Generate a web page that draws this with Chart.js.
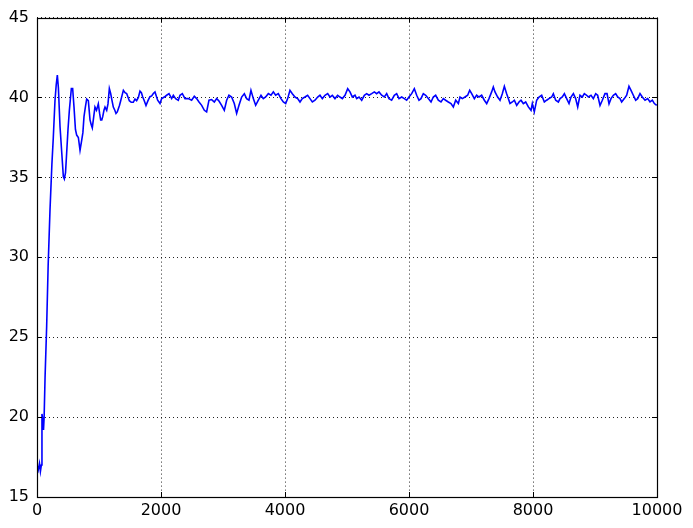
<!DOCTYPE html>
<html>
<head>
<meta charset="utf-8">
<script src="https://cdn.jsdelivr.net/npm/chart.js@4.4.0/dist/chart.umd.min.js"></script>
<style>
  html, body { margin: 0; padding: 0; background: #fff; }
  #chart { display: block; }
</style>
</head>
<body>
<canvas id="chart" width="693" height="528"></canvas>
<script>
const xValues = [
  0, 20, 40, 55, 70, 80, 95, 105, 115, 130, 156, 180, 210, 240, 263, 290, 310, 328, 345, 371,
  400, 425, 441, 460, 478, 500, 522, 554, 575, 597, 620, 640, 667, 694, 720, 740, 758, 780, 801, 828,
  855, 875, 892, 915, 935, 960, 989, 1010, 1027, 1045, 1060, 1080, 1097, 1124, 1145, 1167, 1188, 1210, 1231, 1255,
  1274, 1295, 1312, 1330, 1350, 1370, 1393, 1420, 1446, 1470, 1489, 1520, 1553, 1580, 1607, 1635, 1661, 1684, 1704, 1730,
  1758, 1790, 1822, 1850, 1876, 1903, 1946, 1984, 2011, 2054, 2091, 2129, 2172, 2199, 2236, 2279, 2306, 2344, 2387, 2441,
  2494, 2537, 2575, 2613, 2656, 2699, 2736, 2774, 2817, 2860, 2898, 2935, 2978, 3021, 3059, 3096, 3139, 3182, 3220, 3258,
  3301, 3344, 3381, 3419, 3451, 3489, 3527, 3570, 3613, 3650, 3688, 3731, 3774, 3812, 3849, 3892, 3935, 3973, 4011, 4043,
  4080, 4118, 4161, 4204, 4242, 4279, 4322, 4365, 4403, 4441, 4484, 4527, 4564, 4602, 4645, 4688, 4726, 4763, 4806, 4849,
  4887, 4925, 4968, 5011, 5048, 5086, 5129, 5156, 5194, 5237, 5280, 5317, 5355, 5398, 5441, 5478, 5516, 5559, 5602, 5640,
  5677, 5720, 5763, 5801, 5839, 5882, 5925, 5962, 6000, 6043, 6086, 6124, 6161, 6193, 6231, 6269, 6312, 6355, 6392, 6430,
  6473, 6516, 6554, 6591, 6634, 6677, 6715, 6753, 6796, 6823, 6860, 6903, 6946, 6979, 7011, 7054, 7091, 7129, 7172, 7215,
  7253, 7290, 7333, 7360, 7387, 7430, 7468, 7505, 7538, 7575, 7602, 7629, 7667, 7699, 7737, 7774, 7806, 7844, 7882, 7925,
  7968, 7989, 8021, 8059, 8097, 8140, 8183, 8220, 8258, 8301, 8328, 8366, 8409, 8436, 8473, 8506, 8543, 8581, 8613, 8651,
  8688, 8721, 8758, 8796, 8828, 8866, 8893, 8936, 8973, 9011, 9043, 9081, 9118, 9161, 9194, 9226, 9258, 9296, 9333, 9366,
  9403, 9430, 9473, 9511, 9548, 9581, 9618, 9656, 9688, 9726, 9763, 9807, 9850, 9887, 9925, 9957, 9995
];

const yValues = [
  17.0, 16.7, 17.1, 16.6, 17.0, 20.2, 19.8, 19.2, 20.0, 22.5, 25.7, 29.5, 33.0, 35.8, 37.5, 39.8, 40.8, 41.4, 40.6, 38.2,
  36.5, 35.05, 34.9, 35.3, 36.5, 38.0, 39.2, 40.56, 40.56, 39.4, 38.0, 37.65, 37.5, 36.7, 37.3, 37.8, 38.8, 39.4, 39.9, 39.8,
  38.6, 38.3, 38.1, 38.8, 39.4, 39.2, 39.6, 39.0, 38.6, 38.6, 38.8, 39.2, 39.4, 39.2, 39.6, 40.56, 40.25, 39.8, 39.4, 39.2,
  39.0, 39.1, 39.3, 39.5, 39.8, 40.1, 40.45, 40.3, 40.25, 40.0, 39.8, 39.7, 39.7, 39.9, 39.8, 40.0, 40.4, 40.3, 40.05, 39.8,
  39.5, 39.8, 40.05, 40.1, 40.25, 40.35, 39.83, 39.62, 39.93, 40.03, 40.14, 40.24, 39.93, 40.14, 39.93, 39.83, 40.14, 40.24, 39.93, 39.93,
  39.83, 40.08, 39.93, 39.72, 39.51, 39.2, 39.1, 39.83, 39.87, 39.72, 39.93, 39.78, 39.51, 39.2, 39.83, 40.14, 40.03, 39.62, 39.0, 39.51,
  40.03, 40.24, 39.93, 39.83, 40.45, 39.93, 39.51, 39.83, 40.14, 39.93, 40.03, 40.24, 40.14, 40.35, 40.14, 40.24, 39.93, 39.72, 39.62, 39.93,
  40.45, 40.24, 40.03, 39.93, 39.72, 39.93, 40.03, 40.14, 39.93, 39.72, 39.83, 40.03, 40.14, 39.93, 40.14, 40.24, 40.03, 40.14, 39.93, 40.14,
  40.03, 39.93, 40.14, 40.55, 40.35, 40.03, 40.14, 39.93, 40.03, 39.83, 40.14, 40.24, 40.14, 40.24, 40.35, 40.24, 40.35, 40.14, 40.03, 40.24,
  39.93, 39.83, 40.14, 40.24, 39.93, 40.03, 39.93, 39.83, 40.03, 40.24, 40.55, 40.14, 39.83, 39.93, 40.24, 40.14, 39.93, 39.72, 40.03, 40.14,
  39.83, 39.72, 39.93, 39.83, 39.72, 39.62, 39.41, 39.83, 39.62, 40.03, 39.93, 40.03, 40.14, 40.45, 40.24, 39.93, 40.14, 40.03, 40.14, 39.83,
  39.62, 39.93, 40.35, 40.66, 40.35, 40.03, 39.83, 40.24, 40.7, 40.24, 39.93, 39.62, 39.72, 39.83, 39.51, 39.72, 39.83, 39.62, 39.72, 39.41,
  39.2, 39.62, 39.1, 39.83, 40.03, 40.14, 39.72, 39.83, 39.93, 40.03, 40.24, 39.83, 39.72, 39.93, 40.03, 40.24, 39.93, 39.62, 40.03, 40.24,
  39.93, 39.41, 40.14, 40.03, 40.24, 40.14, 40.03, 40.14, 39.93, 40.24, 40.14, 39.5, 39.83, 40.24, 40.24, 39.6, 39.93, 40.14, 40.24, 40.03,
  39.93, 39.72, 39.93, 40.14, 40.7, 40.45, 40.14, 39.83, 39.93, 40.24, 40.03, 39.83, 39.93, 39.72, 39.83, 39.62, 39.51
];

const xTicks = [0, 2000, 4000, 6000, 8000, 10000];
const yTicks = [15, 20, 25, 30, 35, 40, 45];

const points = xValues.map((x, i) => ({ x: x, y: yValues[i] }));

// box and inward tick marks, matplotlib style
const framePlugin = {
    id: 'frame',
    afterDraw(chart) {
        const ctx = chart.ctx;
        const area = chart.chartArea;
        const xs = chart.scales.x;
        const ys = chart.scales.y;
        const tickLen = 5;
        ctx.save();
        ctx.strokeStyle = '#000';
        ctx.lineWidth = 1;
        ctx.beginPath();
        xTicks.forEach(v => {
            const px = Math.round(xs.getPixelForValue(v)) + 0.5;
            ctx.moveTo(px, area.bottom);
            ctx.lineTo(px, area.bottom - tickLen);
            ctx.moveTo(px, area.top);
            ctx.lineTo(px, area.top + tickLen);
        });
        yTicks.forEach(v => {
            const py = Math.round(ys.getPixelForValue(v)) + 0.5;
            ctx.moveTo(area.left, py);
            ctx.lineTo(area.left + tickLen, py);
            ctx.moveTo(area.right, py);
            ctx.lineTo(area.right - tickLen, py);
        });
        ctx.stroke();
        ctx.lineWidth = 1.2;
        ctx.strokeRect(Math.round(area.left) + 0.5, Math.round(area.top) + 0.5,
            Math.round(area.right - area.left), Math.round(area.bottom - area.top));
        ctx.restore();
    }
};

const tickFont = { family: 'DejaVu Sans', size: 16 };

new Chart(document.getElementById('chart').getContext('2d'), {
    type: 'line',
    data: {
        datasets: [{
            data: points,
            borderColor: '#0000ff',
            borderWidth: 1.6,
            pointRadius: 0,
            fill: false,
            tension: 0
        }]
    },
    options: {
        responsive: false,
        animation: false,
        devicePixelRatio: 1,
        layout: { padding: { top: 16, right: 36, left: 0, bottom: 0 } },
        plugins: {
            legend: { display: false },
            tooltip: { enabled: false }
        },
        scales: {
            x: {
                type: 'linear',
                min: 0,
                max: 10000,
                afterBuildTicks: scale => { scale.ticks = xTicks.map(v => ({ value: v })); },
                afterFit: scale => { scale.height = 31; },
                ticks: { color: '#000', font: tickFont, padding: 4, maxRotation: 0, callback: v => String(v) },
                grid: { color: 'rgba(0,0,0,0.85)', lineWidth: 1, drawTicks: false },
                border: { display: false, dash: [1, 3] }
            },
            y: {
                min: 15,
                max: 45,
                afterBuildTicks: scale => { scale.ticks = yTicks.map(v => ({ value: v })); },
                afterFit: scale => { scale.width = 37; },
                ticks: { color: '#000', font: tickFont, padding: 8, callback: v => String(v) },
                grid: { color: 'rgba(0,0,0,0.85)', lineWidth: 1, drawTicks: false },
                border: { display: false, dash: [1, 3] }
            }
        }
    },
    plugins: [framePlugin]
});
</script>
</body>
</html>
